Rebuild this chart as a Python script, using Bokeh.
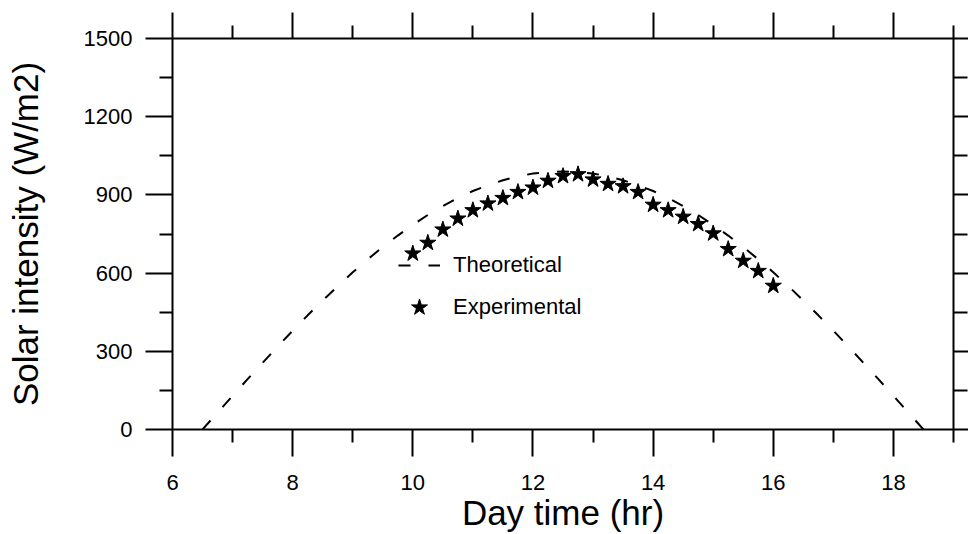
from bokeh.plotting import figure
from bokeh.models import LinearAxis, FixedTicker, Range1d, Legend, LegendItem
from bokeh.embed import file_html
from bokeh.resources import INLINE

# ---- data ----
theory_t = [6.5, 6.75, 7, 7.25, 7.5, 7.75, 8, 8.25, 8.5, 8.75, 9, 9.25, 9.5, 9.75,
            10, 10.25, 10.5, 10.75, 11, 11.25, 11.5, 11.75, 12, 12.25, 12.5,
            12.75, 13, 13.25, 13.5, 13.75, 14, 14.25, 14.5, 14.75, 15, 15.25,
            15.5, 15.75, 16, 16.25, 16.5, 16.75, 17, 17.25, 17.5, 17.75, 18,
            18.25, 18.5]
theory_i = [0, 65, 129, 193, 256, 318, 379, 438, 495, 550, 603, 653, 700, 744,
            785, 823, 857, 888, 915, 937, 956, 971, 982, 988, 990,
            988, 982, 971, 956, 937, 915, 888, 857, 823, 785, 744,
            700, 653, 603, 550, 495, 438, 379, 318, 256, 193, 129,
            65, 0]

exp_t = [10, 10.25, 10.5, 10.75, 11, 11.25, 11.5, 11.75, 12, 12.25, 12.5, 12.75,
         13, 13.25, 13.5, 13.75, 14, 14.25, 14.5, 14.75, 15, 15.25, 15.5, 15.75, 16]
exp_i = [675, 716, 767, 809, 841, 867, 888, 911, 928, 954, 972, 979,
         959, 942, 933, 911, 862, 841, 816, 788, 752, 692, 647, 608, 551]

x_major = [6, 8, 10, 12, 14, 16, 18]
x_minor = [7, 9, 11, 13, 15, 17, 19]
y_major = [0, 300, 600, 900, 1200, 1500]
y_minor = [150, 450, 750, 1050, 1350]

x_label = "Day time (hr)"
y_label = "Solar intensity (W/m2)"
series_names = ["Theoretical", "Experimental"]

FONT = "Liberation Sans"

p = figure(width=968, height=534, output_backend="svg", toolbar_location=None,
           x_range=Range1d(6, 19), y_range=Range1d(0, 1500),
           x_axis_location=None, y_axis_location=None,
           min_border_left=172, min_border_right=15,
           min_border_top=38, min_border_bottom=105)
p.outline_line_color = None
p.background_fill_color = "white"
p.border_fill_color = "white"
p.grid.visible = False


def style(ax, major_out, minor_out, show_labels):
    ax.axis_line_width = 2
    ax.axis_line_color = "black"
    ax.major_tick_line_width = 2
    ax.minor_tick_line_width = 2
    ax.major_tick_line_color = "black"
    ax.minor_tick_line_color = "black"
    ax.major_tick_in = 0
    ax.minor_tick_in = 0
    ax.major_tick_out = major_out
    ax.minor_tick_out = minor_out
    ax.major_label_text_font = FONT
    ax.major_label_text_color = "black"
    ax.axis_label_text_font = FONT
    ax.axis_label_text_font_style = "normal"
    ax.axis_label_text_color = "black"
    if show_labels:
        ax.major_label_text_font_size = "22px"
        ax.axis_label_text_font_size = "35px"
    else:
        ax.major_label_text_font_size = "0px"
        ax.major_label_standoff = 0


bottom = LinearAxis(ticker=FixedTicker(ticks=x_major, minor_ticks=x_minor),
                    axis_label=x_label)
style(bottom, 27, 13, True)
bottom.major_label_standoff = 18
bottom.axis_label_standoff = 0
p.add_layout(bottom, "below")

left = LinearAxis(ticker=FixedTicker(ticks=y_major, minor_ticks=y_minor),
                  axis_label=y_label)
style(left, 27, 13, True)
left.major_label_standoff = 13
left.axis_label_standoff = 36
p.add_layout(left, "left")

top = LinearAxis(ticker=FixedTicker(ticks=x_major, minor_ticks=x_minor),
                 major_label_overrides={v: "" for v in x_major})
style(top, 26, 13, False)
p.add_layout(top, "above")

right = LinearAxis(ticker=FixedTicker(ticks=y_major, minor_ticks=y_minor),
                   major_label_overrides={v: "" for v in y_major})
style(right, 15, 14, False)
p.add_layout(right, "right")

line_r = p.line(theory_t, theory_i, line_color="black", line_width=2,
                line_dash="12 18")
star_r = p.scatter(exp_t, exp_i, marker="star", size=17,
                   fill_color="black", line_color="black")

legend = Legend(items=[LegendItem(label=series_names[0], renderers=[line_r]),
                       LegendItem(label=series_names[1], renderers=[star_r])],
                location=(226, 101), orientation="vertical",
                glyph_width=42, glyph_height=42, label_height=25,
                label_standoff=13, spacing=0, padding=0, margin=0,
                border_line_color=None, background_fill_alpha=0,
                label_text_font=FONT, label_text_font_size="22px",
                label_text_color="black")
p.add_layout(legend)

open("out.html", "w").write(file_html(p, INLINE))
